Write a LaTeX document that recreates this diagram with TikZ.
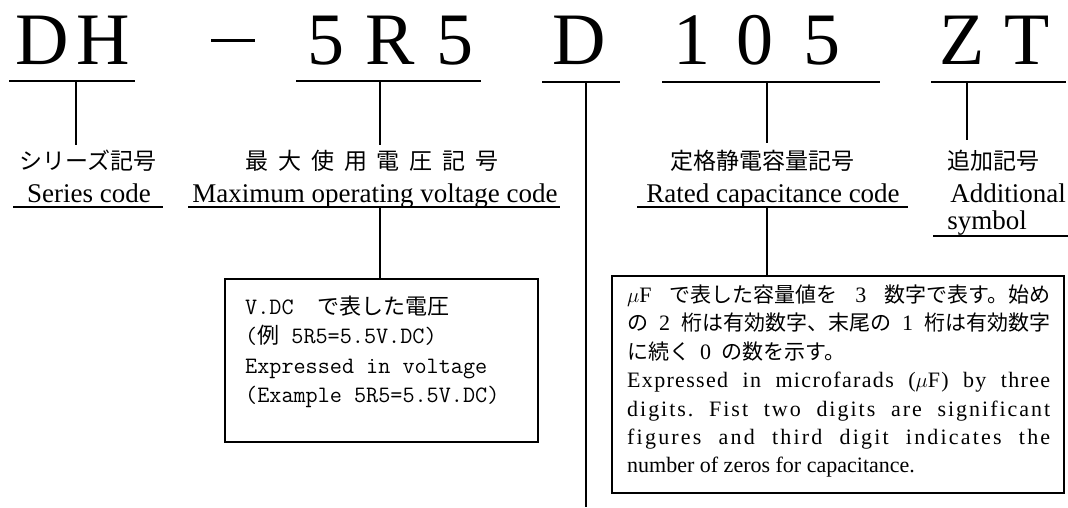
\documentclass[tikz,border=0pt]{standalone}
\usepackage{fontspec}
\setmainfont{Liberation Serif}
\newfontfamily\cjk{Noto Sans CJK JP}
\newcommand\jpa[1]{{\cjk\fontsize{22}{22}\selectfont #1}}
\newcommand\jpb[1]{{\cjk\fontsize{21}{21}\selectfont #1}}
\newcommand\wsp{\ \hfil}
\begin{document}
\begin{tikzpicture}[x=1pt,y=-1pt,
  big/.style={font=\fontsize{74}{74}\selectfont, anchor=base, inner sep=0pt},
  jplabel/.style={font=\cjk\fontsize{23}{23}\selectfont, inner sep=0pt},
  enlabel/.style={font=\fontsize{27}{27}\selectfont, anchor=base, inner sep=0pt},
  rule/.style={line width=1.8pt},
  stem/.style={line width=1.5pt},
  frame/.style={draw, line width=2pt, inner sep=0pt, anchor=north west},
  linea/.style={font=\ttfamily\addfontfeature{FakeBold=0.8}\fontsize{23.5}{23.5}\selectfont, anchor=base west, inner sep=0pt},
  lineb/.style={font=\fontsize{22}{22}\selectfont, anchor=base west, inner sep=0pt},
]
\useasboundingbox (0,0) rectangle (1068,507);

% code letters
\node[big] (cD)  at (42,64)  {D};
\node[big] (cH)  at (103,64) {H};
\node[big] (cm)  at (233,64) {\rule[22pt]{44pt}{3pt}};
\node[big] (c5a) at (326,64) {5};
\node[big] (cR)  at (390,64) {R};
\node[big] (c5b) at (455,64) {5};
\node[big] (cD2) at (579,64) {D};
\node[big] (c1)  at (692,64) {1};
\node[big] (c0)  at (755,64) {0};
\node[big] (c5c) at (822,64) {5};
\node[big] (cZ)  at (962,64) {Z};
\node[big] (cT)  at (1027,64) {T};

% underlines under code groups
\coordinate (u1a) at (9,81);    \coordinate (u1b) at (135,81);
\coordinate (u2a) at (296,81);  \coordinate (u2b) at (481,81);
\coordinate (u3a) at (542,82);  \coordinate (u3b) at (620,82);
\coordinate (u4a) at (662,82);  \coordinate (u4b) at (880,82);
\coordinate (u5a) at (931,82);  \coordinate (u5b) at (1066,82);
\foreach \g in {1,...,5} \draw[rule] (u\g a) -- (u\g b);

% stems
\coordinate (s1t) at (76,81);   \coordinate (s1b) at (76,145);
\coordinate (s2t) at (380,81);  \coordinate (s2b) at (380,145);
\coordinate (s3t) at (586,82);  \coordinate (s3b) at (586,507);
\coordinate (s4t) at (767,82);  \coordinate (s4b) at (767,143);
\coordinate (s5t) at (967,82);  \coordinate (s5b) at (967,140);
\foreach \g in {1,...,5} \draw[stem] (s\g t) -- (s\g b);

% labels
\node[jplabel] (jp1) at (88,161) {シリーズ記号};
\node[enlabel] (en1) at (89,202) {Series code};
\draw[rule] (13,207) coordinate (l1a) -- (163,207) coordinate (l1b);

\node[jplabel] (jp2) at (372,161) {\addfontfeature{LetterSpace=43}最大使用電圧記号};
\node[enlabel] (en2) at (375,202) {Maximum operating voltage code};
\draw[rule] (188,207) coordinate (l2a) -- (560,207) coordinate (l2b);

\node[jplabel] (jp3) at (762,161) {定格静電容量記号};
\node[enlabel] (en3) at (773,202) {Rated capacitance code};
\draw[rule] (637,207) coordinate (l3a) -- (908,207) coordinate (l3b);

\node[jplabel] (jp4) at (993,161) {追加記号};
\node[enlabel] (en4) at (1008,202) {Additional};
\node[enlabel] (en5) at (987,229) {symbol};
\draw[rule] (933,236) coordinate (l4a) -- (1068,236) coordinate (l4b);

% box 1
\node[frame, minimum width=313pt, minimum height=163pt] (b1) at (224,278) {};
\coordinate (k1) at (380,207);
\draw[stem] (k1) -- (k1 |- b1.north);
\node[linea] (a1) at (245,314) {V.DC\ \ \jpa{で表した電圧}};
\node[linea] (a2) at (245,343) {(\jpa{例}\ 5R5=5.5V.DC)};
\node[linea] (a3) at (245,373) {Expressed in voltage};
\node[linea] (a4) at (245,402) {(Example 5R5=5.5V.DC)};

% box 2
\node[frame, minimum width=452pt, minimum height=217pt] (b2) at (611,275) {};
\coordinate (k2) at (767,207);
\draw[stem] (k2) -- (k2 |- b2.north);
\node[lineb] (e1) at (627,302) {\hbox to 423pt{\(\mu\)F\hfil\jpb{で表した容量値を}\hfil 3\hfil\jpb{数字で表す。始め}}};
\node[lineb] (e2) at (627,330) {\hbox to 423pt{\jpb{の}\hfil 2\hfil\jpb{桁は有効数字、末尾の}\hfil 1\hfil\jpb{桁は有効数字}}};
\node[lineb] (e3) at (627,359) {\jpb{に続く}\hspace{10pt}0\hspace{10pt}\jpb{の数を示す。}};
\node[lineb] (e4) at (627,387) {\addfontfeature{LetterSpace=6}\hbox to 423pt{Expressed\wsp in\wsp microfarads\wsp (\(\mu\)F)\wsp by\wsp three}};
\node[lineb] (e5) at (627,416) {\addfontfeature{LetterSpace=9}\hbox to 423pt{digits.\wsp Fist\wsp two\wsp digits\wsp are\wsp significant}};
\node[lineb] (e6) at (627,444) {\addfontfeature{LetterSpace=10}\hbox to 423pt{figures\wsp and\wsp third\wsp digit\wsp indicates\wsp the}};
\node[lineb] (e7) at (627,472) {number of zeros for capacitance.};
\end{tikzpicture}
\end{document}
